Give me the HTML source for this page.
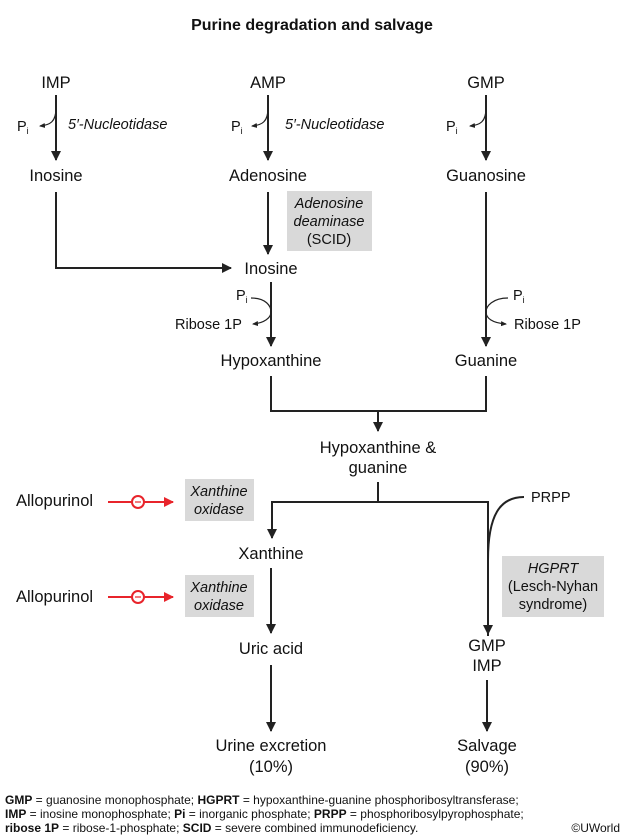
<!DOCTYPE html>
<html><head><meta charset="utf-8"><style>
html,body{margin:0;padding:0;background:#fff;}
svg{display:block;}
text{font-family:"Liberation Sans",Arial,sans-serif;fill:#111;}
</style></head><body>
<svg width="624" height="837" viewBox="0 0 624 837" xmlns="http://www.w3.org/2000/svg">
<defs>
<marker id="a" markerWidth="10" markerHeight="10" refX="9" refY="5" orient="auto" markerUnits="userSpaceOnUse"><path d="M0,0 L10,5 L0,10 z" fill="#222"/></marker>
<marker id="s" markerWidth="6" markerHeight="6" refX="5" refY="3" orient="auto" markerUnits="userSpaceOnUse"><path d="M0,0.5 L6,3 L0,5.5 z" fill="#222"/></marker>
<marker id="r" markerWidth="10" markerHeight="10" refX="9" refY="5" orient="auto" markerUnits="userSpaceOnUse"><path d="M0,0 L10,5 L0,10 z" fill="#e8242b"/></marker>
</defs>
<text x="312" y="30" font-size="16" font-weight="bold" text-anchor="middle">Purine degradation and salvage</text>

<g font-size="16.5" text-anchor="middle">
<text x="56" y="88">IMP</text>
<text x="268" y="88">AMP</text>
<text x="486" y="88">GMP</text>
<text x="56" y="181">Inosine</text>
<text x="268" y="181">Adenosine</text>
<text x="486" y="181">Guanosine</text>
<text x="271" y="274">Inosine</text>
<text x="271" y="366">Hypoxanthine</text>
<text x="486" y="366">Guanine</text>
<text x="378" y="453">Hypoxanthine &amp;</text>
<text x="378" y="473">guanine</text>
<text x="271" y="559">Xanthine</text>
<text x="271" y="654">Uric acid</text>
<text x="487" y="651">GMP</text>
<text x="487" y="671">IMP</text>
<text x="271" y="751">Urine excretion</text>
<text x="271" y="772">(10%)</text>
<text x="487" y="751">Salvage</text>
<text x="487" y="772">(90%)</text>
<text x="16" y="506" text-anchor="start">Allopurinol</text>
<text x="16" y="602" text-anchor="start">Allopurinol</text>
</g>

<g stroke="#222" stroke-width="2" fill="none">
<line x1="56" y1="95" x2="56" y2="160" marker-end="url(#a)"/>
<line x1="268" y1="95" x2="268" y2="160" marker-end="url(#a)"/>
<line x1="486" y1="95" x2="486" y2="160" marker-end="url(#a)"/>
<line x1="268" y1="192" x2="268" y2="254" marker-end="url(#a)"/>
<polyline points="56,192 56,268 231,268" marker-end="url(#a)"/>
<line x1="271" y1="282" x2="271" y2="346" marker-end="url(#a)"/>
<line x1="486" y1="192" x2="486" y2="346" marker-end="url(#a)"/>
<polyline points="271,376 271,411 486,411 486,376"/>
<line x1="378" y1="411" x2="378" y2="431" marker-end="url(#a)"/>
<line x1="378" y1="482" x2="378" y2="502"/>
<polyline points="272,536 272,502 488,502 488,636"/>
<line x1="272" y1="502" x2="272" y2="538" marker-end="url(#a)"/>
<line x1="271" y1="568" x2="271" y2="633" marker-end="url(#a)"/>
<line x1="271" y1="665" x2="271" y2="731" marker-end="url(#a)"/>
<line x1="488" y1="560" x2="488" y2="634" marker-end="url(#a)"/>
<line x1="487" y1="680" x2="487" y2="731" marker-end="url(#a)"/>
</g>
<g stroke="#222" stroke-width="1.2" fill="none">
<path d="M56,108 C56,122 50,125 40,126" marker-end="url(#s)"/>
<path d="M268,108 C268,122 262,125 252,126" marker-end="url(#s)"/>
<path d="M486,108 C486,122 480,125 470,126" marker-end="url(#s)"/>
<path d="M251,298 C266,298 271,306 271,312 C271,318 264,323 253,324" marker-end="url(#s)"/>
<path d="M508,298 C493,298 486,306 486,312 C486,318 492,323 506,324" marker-end="url(#s)"/>
<path d="M524,497 C500,497 488,515 488,560" stroke-width="2"/>
</g>
<g font-size="14.5">
<text x="17" y="131">P<tspan font-size="9" dy="3">i</tspan></text>
<text x="231" y="131">P<tspan font-size="9" dy="3">i</tspan></text>
<text x="446" y="131">P<tspan font-size="9" dy="3">i</tspan></text>
<text x="68" y="129" font-style="italic">5′-Nucleotidase</text>
<text x="285" y="129" font-style="italic">5′-Nucleotidase</text>
<text x="236" y="300">P<tspan font-size="9" dy="3">i</tspan></text>
<text x="513" y="300">P<tspan font-size="9" dy="3">i</tspan></text>
<text x="175" y="329">Ribose 1P</text>
<text x="514" y="329">Ribose 1P</text>
<text x="531" y="502">PRPP</text>
</g>

<rect x="287" y="191" width="85" height="60" fill="#d9d9d9"/>
<g font-size="14.5" text-anchor="middle">
<text x="329" y="208" font-style="italic">Adenosine</text>
<text x="329" y="226" font-style="italic">deaminase</text>
<text x="329" y="244">(SCID)</text>
</g>
<rect x="185" y="479" width="69" height="42" fill="#d9d9d9"/>
<rect x="185" y="575" width="69" height="42" fill="#d9d9d9"/>
<g font-size="14.5" text-anchor="middle" font-style="italic">
<text x="219" y="496">Xanthine</text>
<text x="219" y="514">oxidase</text>
<text x="219" y="592">Xanthine</text>
<text x="219" y="610">oxidase</text>
</g>
<rect x="502" y="556" width="102" height="61" fill="#d9d9d9"/>
<g font-size="14.5" text-anchor="middle">
<text x="553" y="573" font-style="italic">HGPRT</text>
<text x="553" y="591">(Lesch-Nyhan</text>
<text x="553" y="609">syndrome)</text>
</g>

<g stroke="#e8242b" stroke-width="2" fill="none">
<line x1="108" y1="502" x2="132" y2="502"/>
<circle cx="138" cy="502" r="6"/>
<line x1="144" y1="502" x2="173" y2="502" marker-end="url(#r)"/>
<line x1="108" y1="597" x2="132" y2="597"/>
<circle cx="138" cy="597" r="6"/>
<line x1="144" y1="597" x2="173" y2="597" marker-end="url(#r)"/>
<line x1="135" y1="502" x2="141" y2="502" stroke-width="1.2"/>
<line x1="135" y1="597" x2="141" y2="597" stroke-width="1.2"/>
</g>

<g font-size="12">
<text x="5" y="804"><tspan font-weight="bold">GMP</tspan> = guanosine monophosphate; <tspan font-weight="bold">HGPRT</tspan> = hypoxanthine-guanine phosphoribosyltransferase;</text>
<text x="5" y="818"><tspan font-weight="bold">IMP</tspan> = inosine monophosphate; <tspan font-weight="bold">Pi</tspan> = inorganic phosphate; <tspan font-weight="bold">PRPP</tspan> = phosphoribosylpyrophosphate;</text>
<text x="5" y="832"><tspan font-weight="bold">ribose 1P</tspan> = ribose-1-phosphate; <tspan font-weight="bold">SCID</tspan> = severe combined immunodeficiency.</text>
<text x="620" y="832" text-anchor="end">©UWorld</text>
</g>
</svg>
</body></html>
